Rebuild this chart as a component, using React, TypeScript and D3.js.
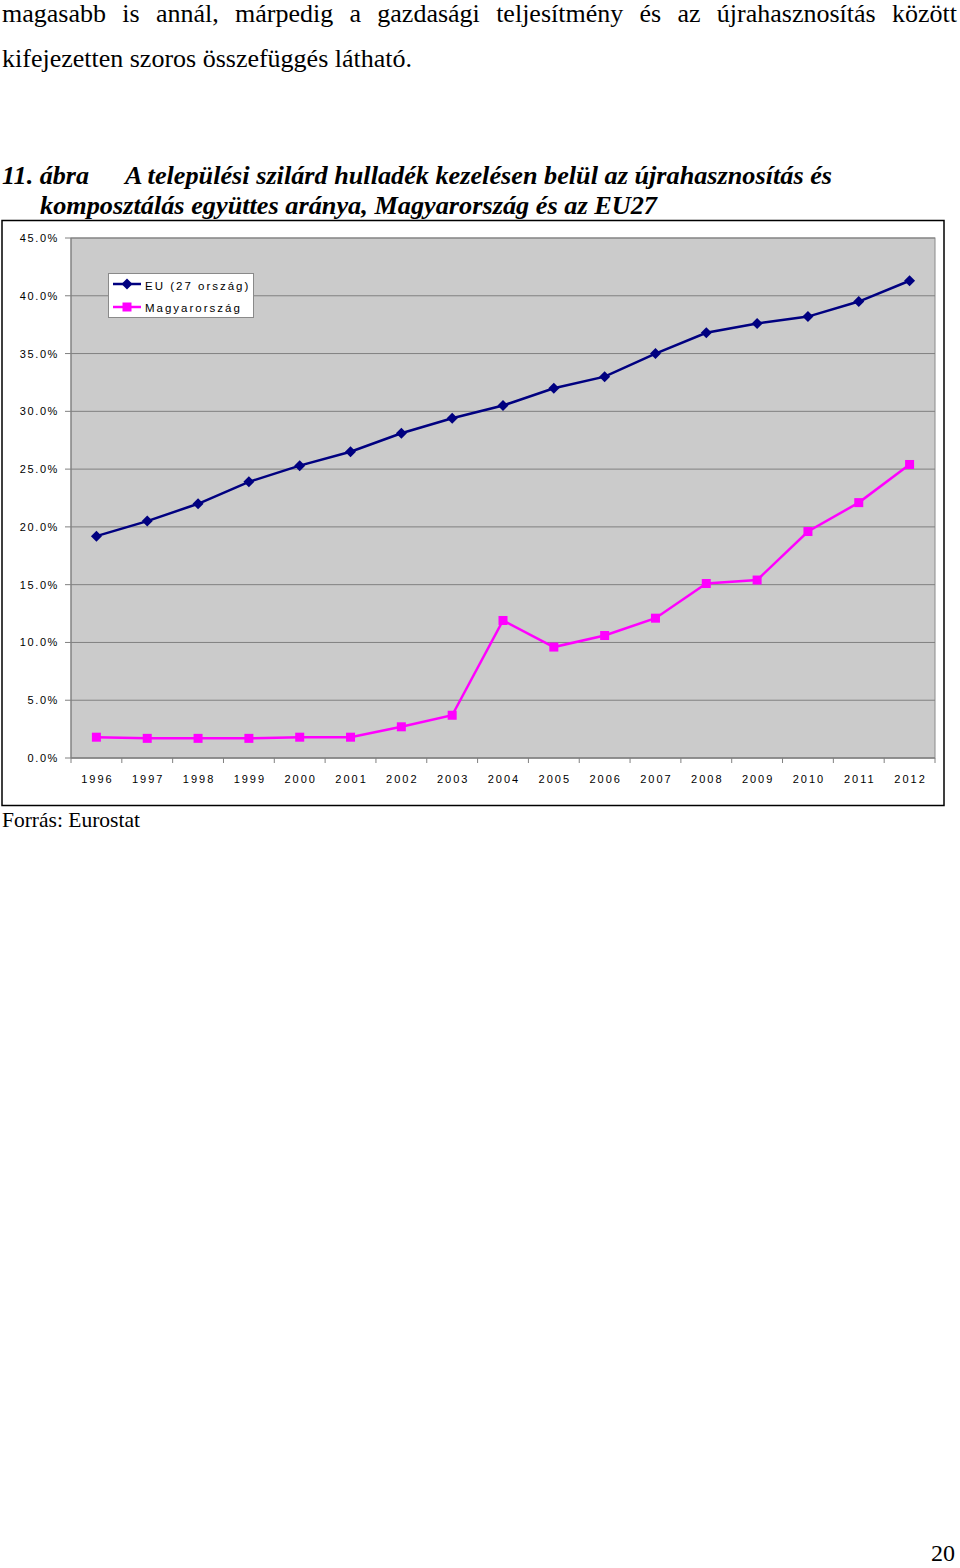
import React, { useMemo } from "react";
import * as d3 from "d3";

const years = ["1996","1997","1998","1999","2000","2001","2002","2003","2004","2005","2006","2007","2008","2009","2010","2011","2012"];
const euValues = [19.2,20.5,22.0,23.9,25.3,26.5,28.1,29.4,30.5,32.0,33.0,35.0,36.8,37.6,38.2,39.5,41.3];
const huValues = [1.8,1.7,1.7,1.7,1.8,1.8,2.7,3.7,11.9,9.6,10.6,12.1,15.1,15.4,19.6,22.1,25.4];
const yTicks = [0,5,10,15,20,25,30,35,40,45];
const seriesNames = ["EU (27 ország)", "Magyarország"];

const para1 = "magasabb is annál, márpedig a gazdasági teljesítmény és az újrahasznosítás között";
const para2 = "kifejezetten szoros összefüggés látható.";

const serif = "'Liberation Serif', 'Times New Roman', serif";
const paraSize = 26;

function justify(text: string, x0: number, x1: number): [string, number, number][] {
  const words = text.split(" ");
  let widths = words.map((w) => w.length * paraSize * 0.45);
  try {
    const ctx = document.createElement("canvas").getContext("2d");
    if (ctx) {
      ctx.font = `${paraSize}px 'Liberation Serif'`;
      widths = words.map((w) => ctx.measureText(w).width);
    }
  } catch (e) {}
  const total = widths.reduce((a, b) => a + b, 0);
  const gap = (x1 - x0 - total) / (words.length - 1);
  const out: [string, number, number][] = [];
  let cur = x0;
  words.forEach((w, i) => {
    out.push([w, cur, widths[i]]);
    cur += widths[i] + gap;
  });
  return out;
}

export default function App() {
  const W = 960, H = 1568;
  const plot = { left: 71, right: 935, top: 238, bottom: 758 };
  const x = d3.scaleBand<string>().domain(years).range([plot.left, plot.right]);
  const y = d3.scaleLinear().domain([0, 45]).range([plot.bottom, plot.top]);
  const cx = (yr: string) => (x(yr) as number) + x.bandwidth() / 2;
  const line = d3.line<number>().x((_, i) => cx(years[i])).y((v) => y(v));
  const axisFont = { fontFamily: "Arial, 'Liberation Sans', sans-serif", fontSize: 11, letterSpacing: 2, fill: "#000" } as const;
  const words = useMemo(() => justify(para1, 2, 957), []);

  return (
    <svg width={W} height={H} style={{ position: "absolute", left: 0, top: 0, background: "#fff" }}>
      {/* paragraph */}
      <g fontFamily={serif} fontSize={paraSize} fill="#000">
        {words.map(([w, px], i) => (
          <text key={i} x={px} y={22}>{w}</text>
        ))}
        <text x={2} y={67} textLength={410} lengthAdjust="spacingAndGlyphs">{para2}</text>
      </g>
      {/* title */}
      <g fontFamily={serif} fontSize={26} fontWeight="bold" fontStyle="italic" fill="#000">
        <text x={2} y={184} textLength={87} lengthAdjust="spacingAndGlyphs">11. ábra</text>
        <text x={125} y={184} textLength={707} lengthAdjust="spacingAndGlyphs">A települési szilárd hulladék kezelésen belül az újrahasznosítás és</text>
        <text x={40} y={214} textLength={617} lengthAdjust="spacingAndGlyphs">komposztálás együttes aránya, Magyarország és az EU27</text>
      </g>
      {/* outer frame */}
      <rect x={2} y={220.5} width={942} height={585} fill="#fff" stroke="#000" strokeWidth={1.5} />
      {/* plot area */}
      <rect x={plot.left} y={plot.top} width={plot.right - plot.left} height={plot.bottom - plot.top} fill="#cbcbcb" stroke="#8a8a8a" strokeWidth={1} />
      {yTicks.map((t) => (
        <g key={t}>
          <line x1={plot.left - 6} x2={plot.right} y1={y(t)} y2={y(t)} stroke="#808080" strokeWidth={1} />
          <text x={59} y={y(t) + 4} textAnchor="end" {...axisFont} letterSpacing={1.6}>{t.toFixed(1) + "%"}</text>
        </g>
      ))}
      <line x1={plot.left} x2={plot.left} y1={plot.top} y2={plot.bottom} stroke="#808080" strokeWidth={1} />
      <line x1={plot.left} x2={plot.right} y1={plot.bottom} y2={plot.bottom} stroke="#808080" strokeWidth={1} />
      {years.map((yr, i) => (
        <g key={yr}>
          <line x1={(x(yr) as number)} x2={(x(yr) as number)} y1={plot.bottom} y2={plot.bottom + 5} stroke="#808080" />
          {i === years.length - 1 && (
            <line x1={plot.right} x2={plot.right} y1={plot.bottom} y2={plot.bottom + 5} stroke="#808080" />
          )}
          <text x={cx(yr) + 1} y={783} textAnchor="middle" {...axisFont}>{yr}</text>
        </g>
      ))}
      {/* series */}
      <path d={line(euValues) || ""} fill="none" stroke="#000080" strokeWidth={2.5} />
      <path d={line(huValues) || ""} fill="none" stroke="#ff00ff" strokeWidth={2.5} />
      {euValues.map((v, i) => (
        <path key={"e" + i} d={`M${cx(years[i])},${y(v) - 5.5}l5.5,5.5l-5.5,5.5l-5.5,-5.5z`} fill="#000080" />
      ))}
      {huValues.map((v, i) => (
        <rect key={"h" + i} x={cx(years[i]) - 4.5} y={y(v) - 4.5} width={9} height={9} fill="#ff00ff" />
      ))}
      {/* legend */}
      <rect x={108.5} y={273.5} width={145} height={44} fill="#fff" stroke="#8a8a8a" strokeWidth={1} />
      <line x1={113} x2={141} y1={284} y2={284} stroke="#000080" strokeWidth={2.5} />
      <path d="M127,278.5l5.5,5.5l-5.5,5.5l-5.5,-5.5z" fill="#000080" />
      <text x={145} y={290} {...axisFont} fontSize={11.5}>{seriesNames[0]}</text>
      <line x1={113} x2={141} y1={307} y2={307} stroke="#ff00ff" strokeWidth={2.5} />
      <rect x={122.5} y={302.5} width={9} height={9} fill="#ff00ff" />
      <text x={145} y={312} {...axisFont} fontSize={11.5}>{seriesNames[1]}</text>
      {/* source and page number */}
      <text x={2} y={827} fontFamily={serif} fontSize={21.5} fill="#000">Forrás: Eurostat</text>
      <text x={955} y={1561} textAnchor="end" fontFamily={serif} fontSize={24} fill="#000">20</text>
    </svg>
  );
}
